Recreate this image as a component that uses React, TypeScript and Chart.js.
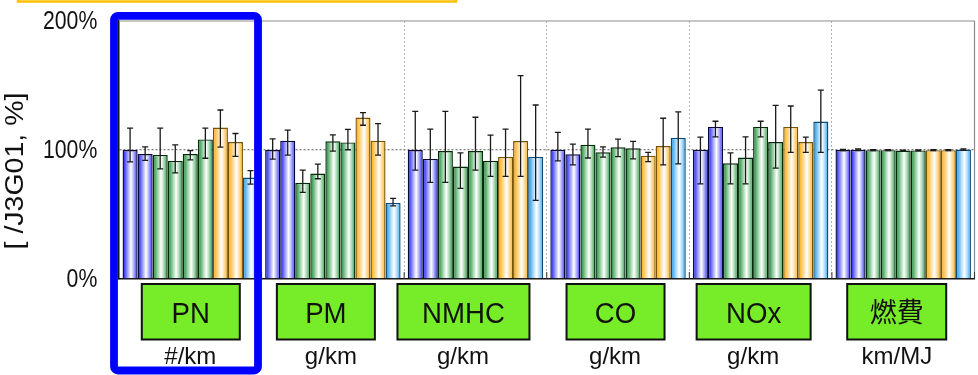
import React, { useEffect, useRef } from "react";
import { Chart, registerables } from "chart.js";

Chart.register(...registerables);

// ---------- data ----------
const categories = ["PN", "PM", "NMHC", "CO", "NOx", "燃費"];
const units = ["#/km", "g/km", "g/km", "g/km", "g/km", "km/MJ"];
const seriesLabels = ["S1", "S2", "S3", "S4", "S5", "S6", "S7", "S8", "S9"];
const yTickValues = [0, 100, 200];
const yAxisTitle = "[ /J3G01, %]";

const pnValues = [100, 96.9, 96.2, 91.5, 96.9, 108.2, 117.4, 106.2, 78.7];
const pnHigh = [117, 102.5, 117, 104, 99.5, 117, 131, 112.8, 84];
const pnLow = [90.8, 92, 85.4, 82.3, 92.3, 93.6, 102.3, 95.1, 73.6];

const pmValues = [100, 107.2, 74.6, 81.8, 106.7, 105.9, 125.1, 107.2, 59];
const pmHigh = [108.7, 115.4, 84.4, 89, 111.8, 116, 129, 120.5, 62.5];
const pmLow = [93, 96, 67.2, 77.7, 99.2, 100.2, 119.2, 96, 56.7];

const nmhcValues = [100, 93.1, 99.2, 87.2, 99.2, 91.5, 94.6, 106.9, 94.6];
const nmhcHigh = [130, 116.2, 130, 97.7, 125.4, 111.5, 116.2, 157.7, 134.9];
const nmhcLow = [84.4, 74.9, 74.9, 70.2, 84.4, 79.5, 79.5, 79.5, 61];

const coValues = [100.2, 96.7, 104.1, 98.2, 102.1, 101.3, 95.6, 103.1, 109.5];
const coHigh = [113.6, 104.6, 116.2, 102.5, 108.5, 106.7, 98.2, 124.6, 129.5];
const coLow = [91.5, 88.5, 93.8, 94.4, 94.9, 93.1, 91, 88.5, 89.2];

const noxValues = [100.2, 117.9, 89.7, 94.1, 117.9, 106.2, 117.9, 106.2, 122.1];
const noxHigh = [110, 122.3, 97.7, 110.2, 122.3, 134.6, 134.1, 110, 146.4];
const noxLow = [73.8, 110.2, 73.8, 73.8, 110.2, 85.9, 98.2, 98.2, 98.2];

const fuelValues = [100, 100.2, 99.9, 99.9, 99.6, 99.7, 99.9, 99.9, 100.3];
const fuelHigh = [100.4, 100.8, 100.2, 100.2, 99.9, 100, 100.2, 100.2, 100.9];
const fuelLow = [99.6, 99.6, 99.6, 99.6, 99.3, 99.4, 99.6, 99.6, 99.7];

const groupValues = [pnValues, pmValues, nmhcValues, coValues, noxValues, fuelValues];
const groupHigh = [pnHigh, pmHigh, nmhcHigh, coHigh, noxHigh, fuelHigh];
const groupLow = [pnLow, pmLow, nmhcLow, coLow, noxLow, fuelLow];

// ---------- styles ----------
const SERIES_STYLE = ["blue", "blue", "green", "green", "green", "green", "orange", "orange", "sky"];
const PALETTE: Record<string, { edge: string; mid: string; light: string; border: string }> = {
  blue: { edge: "#1010f5", mid: "#5252ff", light: "#a8a8ff", border: "#08083a" },
  green: { edge: "#1e8638", mid: "#50a866", light: "#a6d8b0", border: "#052a0a" },
  orange: { edge: "#ffa000", mid: "#ffbe40", light: "#ffdc9c", border: "#7a5404" },
  sky: { edge: "#1494e6", mid: "#52b2f0", light: "#b0dcfa", border: "#0b4a78" },
};
const CAT_PCT = 0.95;
const BOX_WIDTH = [98, 98, 132, 98, 114, 99];
const BOX_SHIFT = [0.5, -7, -12, -2.5, -7, -6.5];
const UNIT_SHIFT = [0, -2, -12.5, -3, -7.5, -6.3];
const SANS = "'Liberation Sans', Arial, Helvetica, sans-serif";
const CJK = "'Noto Sans CJK JP', 'Noto Sans CJK SC', sans-serif";

const nSeries = seriesLabels.length;

function makeBackground(s: number) {
  const pal = PALETTE[SERIES_STYLE[s]];
  return (c: any) => {
    const chart = c.chart;
    const xs = chart.scales && chart.scales.x;
    if (!xs || c.dataIndex === undefined || !chart.chartArea) return pal.edge;
    const groupW = (xs.right - xs.left) / categories.length;
    const center = xs.getPixelForValue(c.dataIndex);
    const barW = (groupW * CAT_PCT) / nSeries;
    const left = center - (groupW * CAT_PCT) / 2 + s * barW;
    if (!isFinite(left)) return pal.edge;
    const g = chart.ctx.createLinearGradient(left, 0, left + barW, 0);
    g.addColorStop(0, pal.edge);
    g.addColorStop(0.16, pal.mid);
    g.addColorStop(0.36, pal.light);
    g.addColorStop(0.56, "#ffffff");
    g.addColorStop(0.76, pal.light);
    g.addColorStop(0.92, pal.mid);
    g.addColorStop(1, pal.edge);
    return g;
  };
}

const framePlugin = {
  id: "frame",
  beforeDatasetsDraw(chart: any) {
    const { ctx, chartArea: a } = chart;
    const xs = chart.scales.x;
    ctx.save();
    ctx.strokeStyle = "#8c8c8c";
    ctx.lineWidth = 1.2;
    ctx.beginPath();
    ctx.moveTo(a.left, a.top);
    ctx.lineTo(a.right, a.top);
    ctx.lineTo(a.right, a.bottom);
    ctx.stroke();
    ctx.strokeStyle = "#333";
    ctx.lineWidth = 1;
    const gw = (xs.right - xs.left) / categories.length;
    for (let i = 1; i <= categories.length; i++) {
      const x = xs.left + gw * i;
      ctx.beginPath();
      ctx.moveTo(x, a.bottom);
      ctx.lineTo(x, a.bottom - 7);
      ctx.stroke();
    }
    ctx.restore();
  },
};

const errorBarPlugin = {
  id: "errorBars",
  afterDatasetsDraw(chart: any) {
    const { ctx } = chart;
    const ys = chart.scales.y;
    ctx.save();
    ctx.strokeStyle = "#1a1a1a";
    ctx.lineWidth = 1.3;
    for (let s = 0; s < nSeries; s++) {
      const meta = chart.getDatasetMeta(s);
      meta.data.forEach((el: any, i: number) => {
        const x = el.x;
        const yh = ys.getPixelForValue(groupHigh[i][s]);
        const yl = ys.getPixelForValue(groupLow[i][s]);
        ctx.beginPath();
        ctx.moveTo(x, yh);
        ctx.lineTo(x, yl);
        ctx.moveTo(x - 3, yh);
        ctx.lineTo(x + 3, yh);
        ctx.moveTo(x - 3, yl);
        ctx.lineTo(x + 3, yl);
        ctx.stroke();
      });
    }
    ctx.restore();
  },
};

// y tick labels, placed from the y scale's own ticks, drawn slightly condensed
const yTickLabelPlugin = {
  id: "yTickLabels",
  afterDraw(chart: any) {
    const { ctx, chartArea: a } = chart;
    const ys = chart.scales.y;
    ctx.save();
    ctx.font = `25px ${SANS}`;
    ctx.fillStyle = "#111";
    ctx.textAlign = "right";
    ctx.textBaseline = "middle";
    ys.ticks.forEach((t: any) => {
      const y = ys.getPixelForValue(t.value) + 1.5;
      ctx.save();
      ctx.translate(a.left - 21.7, y);
      ctx.scale(0.85, 1);
      ctx.fillText(`${t.value}%`, 0, 0);
      ctx.restore();
    });
    ctx.restore();
  },
};

const annotationPlugin = {
  id: "annotations",
  afterDraw(chart: any) {
    const { ctx, chartArea: a } = chart;
    const xs = chart.scales.x;
    ctx.save();
    categories.forEach((cat, i) => {
      const cx = xs.getPixelForValue(i) + BOX_SHIFT[i];
      const w = BOX_WIDTH[i];
      const top = a.bottom + 5;
      const h = 55.5;
      ctx.fillStyle = "#77ec28";
      ctx.fillRect(cx - w / 2, top, w, h);
      ctx.strokeStyle = "#111";
      ctx.lineWidth = 2;
      ctx.strokeRect(cx - w / 2, top, w, h);
      ctx.fillStyle = "#111";
      ctx.textAlign = "center";
      ctx.save();
      ctx.translate(cx, 0);
      if (/[\u3000-\u9fff]/.test(cat)) {
        ctx.font = `27px ${CJK}`;
        ctx.textBaseline = "middle";
        ctx.fillText(cat, 0, top + h / 2);
      } else {
        ctx.scale(0.92, 1);
        ctx.font = `30px ${SANS}`;
        ctx.textBaseline = "alphabetic";
        ctx.fillText(cat, 0, top + 39.3);
      }
      ctx.restore();
      ctx.font = `24px ${SANS}`;
      ctx.textBaseline = "alphabetic";
      ctx.fillText(units[i], xs.getPixelForValue(i) + UNIT_SHIFT[i], a.bottom + 85);
    });
    // y axis title
    ctx.save();
    ctx.translate(16, 171);
    ctx.rotate(-Math.PI / 2);
    ctx.scale(1, 0.88);
    ctx.font = `28.5px ${SANS}`;
    ctx.fillStyle = "#111";
    ctx.textAlign = "center";
    ctx.textBaseline = "middle";
    ctx.fillText(yAxisTitle, 0, 0);
    ctx.restore();
    // orange frame (top, partially visible)
    ctx.strokeStyle = "#ffc000";
    ctx.lineWidth = 2.5;
    ctx.strokeRect(18, -10, 438, 11.5);
    // blue highlight frame
    ctx.strokeStyle = "#0000ff";
    ctx.lineWidth = 7.8;
    ctx.lineJoin = "round";
    ctx.beginPath();
    if ((ctx as any).roundRect) (ctx as any).roundRect(114, 15.8, 144, 354.7, 4);
    else ctx.rect(114, 15.8, 144, 354.7);
    ctx.stroke();
    ctx.restore();
  },
};

export default function App() {
  const canvasRef = useRef<HTMLCanvasElement>(null);

  useEffect(() => {
    if (!canvasRef.current) return;
    const datasets = seriesLabels.map((label, s) => {
      const pal = PALETTE[SERIES_STYLE[s]];
      return {
        label,
        data: groupValues.map((g) => g[s]),
        backgroundColor: makeBackground(s),
        borderColor: pal.border,
        borderWidth: 1.4,
        borderSkipped: "start" as const,
        barPercentage: 1,
        categoryPercentage: CAT_PCT,
      };
    });

    const chart = new Chart(canvasRef.current, {
      type: "bar",
      data: { labels: categories, datasets },
      options: {
        animation: false,
        responsive: false,
        devicePixelRatio: 1,
        layout: { padding: { top: 21, right: 3.5, left: 0, bottom: 0 } },
        plugins: { legend: { display: false }, tooltip: { enabled: false }, title: { display: false } },
        scales: {
          x: {
            type: "category",
            offset: true,
            ticks: { display: false },
            grid: {
              offset: true,
              drawTicks: false,
              lineWidth: 1,
              color: (c: any) =>
                c.index === 0 || c.index >= categories.length ? "rgba(0,0,0,0)" : "#b4b4b4",
            },
            border: { display: true, color: "#111", width: 1.5, dash: [2, 2] },
            afterFit: (scale: any) => {
              scale.height = 96;
            },
          },
          y: {
            min: 0,
            max: 200,
            afterBuildTicks: (scale: any) => {
              scale.ticks = yTickValues.map((v) => ({ value: v }));
            },
            ticks: { display: false },
            grid: {
              drawTicks: false,
              lineWidth: 1.3,
              color: (c: any) => (c.tick && c.tick.value === 100 ? "#808080" : "rgba(0,0,0,0)"),
            },
            border: { display: true, color: "#111", width: 1.5, dash: [2, 2] },
            afterFit: (scale: any) => {
              scale.width = 119;
            },
          },
        },
      },
      plugins: [framePlugin, errorBarPlugin, yTickLabelPlugin, annotationPlugin],
    });
    return () => chart.destroy();
  }, []);

  return (
    <div style={{ position: "absolute", left: 0, top: 0, width: 978, height: 375, background: "#fff" }}>
      <canvas ref={canvasRef} width={978} height={375} style={{ display: "block" }} />
    </div>
  );
}
